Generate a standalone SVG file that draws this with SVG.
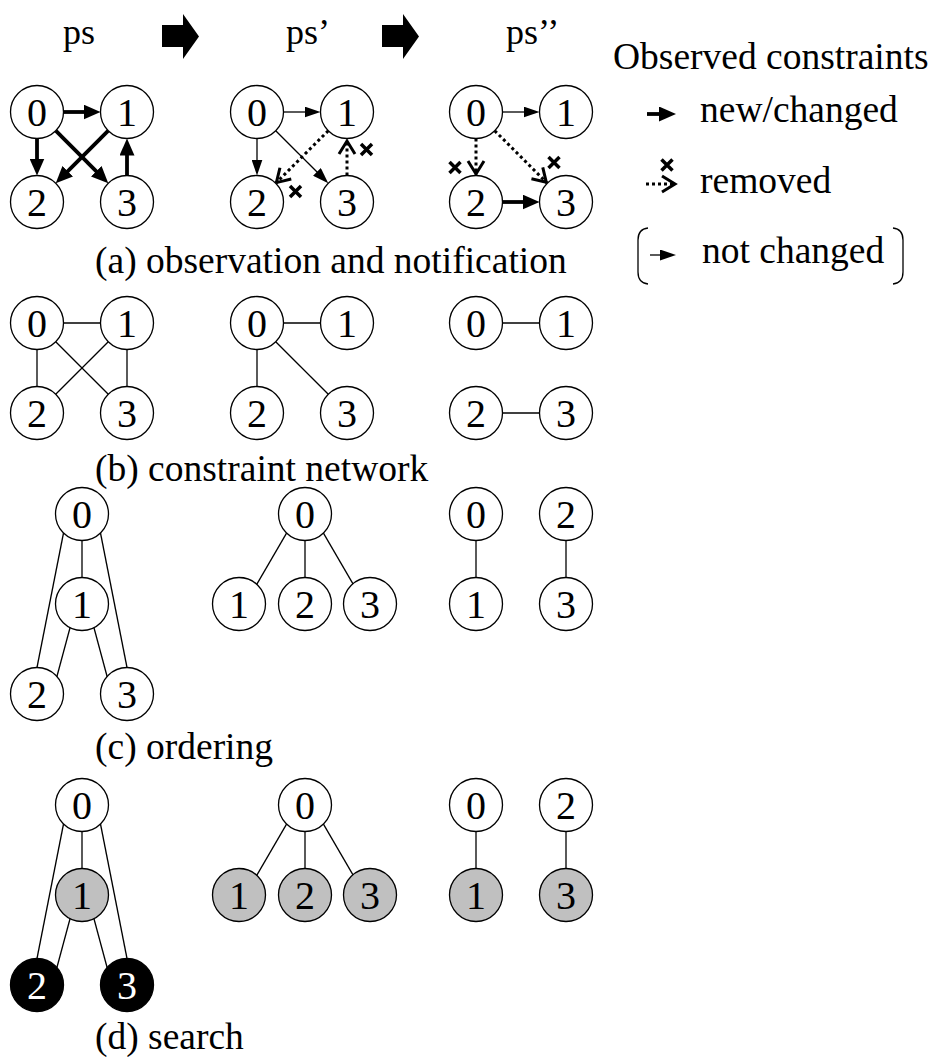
<svg xmlns="http://www.w3.org/2000/svg" width="936" height="1057" viewBox="0 0 936 1057">
<style>
.node circle{fill:#fff;stroke:#000;stroke-width:1.3}
.node text{font-family:"Liberation Serif",serif;font-size:40px;text-anchor:middle;fill:#000}
.gray circle{fill:#c0c0c0}
.black circle{fill:#000}
.black text{fill:#fff}
.thick{stroke:#000;stroke-width:3.8;fill:none;marker-end:url(#ahThick)}
.thin{stroke:#000;stroke-width:1.3;fill:none}
.tarrow{marker-end:url(#ahThin)}
.removed{stroke:#000;stroke-width:3;stroke-dasharray:3 3;fill:none;marker-end:url(#chev)}
.xm{stroke:#000;stroke-width:3.5;fill:none}
.lbl{font-family:"Liberation Serif",serif;font-size:37.5px;fill:#000}
.hdr{font-family:"Liberation Serif",serif;font-size:36px;fill:#000}
.bracket{stroke:#000;stroke-width:1.3;fill:none}
</style>
<defs>
<marker id="ahThick" markerUnits="userSpaceOnUse" viewBox="0 0 17 15" markerWidth="17" markerHeight="15" refX="9" refY="7.5" orient="auto"><path d="M0,0 L17,7.5 L0,15 z" fill="#000"/></marker>
<marker id="ahThin" markerUnits="userSpaceOnUse" viewBox="0 0 16 11" markerWidth="16" markerHeight="11" refX="9" refY="5.5" orient="auto"><path d="M0,0 L16,5.5 L0,11 z" fill="#000"/></marker>
<marker id="chev" markerUnits="userSpaceOnUse" viewBox="-3 -3 22 22" markerWidth="22" markerHeight="22" refX="14" refY="8" orient="auto"><path d="M0,0 L13,8 L0,16" fill="none" stroke="#000" stroke-width="3"/></marker>
<path id="xmark" class="xm" d="M-5.5,-5.5 L5.5,5.5 M-5.5,5.5 L5.5,-5.5"/>
<path id="bigArrow" d="M162,25 H183 V14 L199,36.5 L183,59 V47 H162 Z" fill="#000"/>
</defs>

<g id="header">
<text class="hdr" x="63" y="44">ps</text>
<use href="#bigArrow"/>
<text class="hdr" x="286" y="44">ps’</text>
<use href="#bigArrow" transform="translate(220,0)"/>
<text class="hdr" x="506" y="44">ps’’</text>
</g>

<g id="legend">
<text class="lbl" x="613" y="69">Observed constraints</text>
<line class="thick" x1="647" y1="114" x2="668" y2="114"/>
<text class="lbl" x="700" y="122">new/changed</text>
<use href="#xmark" x="667" y="165"/>
<line class="removed" x1="646" y1="184" x2="676" y2="184"/>
<text class="lbl" x="700" y="193">removed</text>
<path class="bracket" d="M648,228 Q638,229 638,240 V272 Q638,283 648,284"/>
<line class="thin tarrow" x1="650" y1="255" x2="669" y2="255"/>
<text class="lbl" x="702" y="263">not changed</text>
<path class="bracket" d="M893,228 Q903,229 903,240 V272 Q903,283 893,284"/>
</g>

<g id="connectors">
<!-- (a) ps -->
<line class="thick" x1="63.5" y1="112" x2="92.5" y2="112"/>
<line class="thick" x1="37" y1="138.5" x2="37" y2="167.5"/>
<line class="thick" x1="127" y1="175.5" x2="127" y2="146.5"/>
<line class="thick" x1="55.7" y1="130.7" x2="102.6" y2="177.6"/>
<line class="thick" x1="108.3" y1="130.7" x2="61.4" y2="177.6"/>
<!-- (a) ps' -->
<line class="thin tarrow" x1="283.5" y1="112" x2="313.5" y2="112"/>
<line class="thin tarrow" x1="257" y1="138.5" x2="257" y2="168.5"/>
<line class="thin tarrow" x1="275.7" y1="130.7" x2="323.3" y2="178.3"/>
<line class="removed" x1="328.3" y1="130.7" x2="275.7" y2="183.3"/>
<line class="removed" x1="347" y1="175.5" x2="347" y2="140"/>
<use href="#xmark" x="295.5" y="191.5"/>
<use href="#xmark" x="366.5" y="149.5"/>
<!-- (a) ps'' -->
<line class="thin tarrow" x1="502.5" y1="112" x2="532.5" y2="112"/>
<line class="thick" x1="502.5" y1="202" x2="531.5" y2="202"/>
<line class="removed" x1="476" y1="138.5" x2="476" y2="175"/>
<line class="removed" x1="494.7" y1="130.7" x2="547" y2="183"/>
<use href="#xmark" x="455" y="167.5"/>
<use href="#xmark" x="554" y="162.5"/>
<!-- (b) -->
<line class="thin" x1="63.5" y1="323" x2="100.5" y2="323"/>
<line class="thin" x1="37" y1="349.5" x2="37" y2="386.5"/>
<line class="thin" x1="127" y1="349.5" x2="127" y2="386.5"/>
<line class="thin" x1="55.7" y1="341.7" x2="108.3" y2="394.3"/>
<line class="thin" x1="108.3" y1="341.7" x2="55.7" y2="394.3"/>
<line class="thin" x1="283.5" y1="323" x2="320.5" y2="323"/>
<line class="thin" x1="257" y1="349.5" x2="257" y2="386.5"/>
<line class="thin" x1="275.7" y1="341.7" x2="328.3" y2="394.3"/>
<line class="thin" x1="502.5" y1="323" x2="539.5" y2="323"/>
<line class="thin" x1="502.5" y1="413" x2="539.5" y2="413"/>
<!-- (c) -->
<line class="thin" x1="82" y1="540" x2="82" y2="578"/>
<line class="thin" x1="63.8" y1="531.5" x2="36.7" y2="669"/>
<line class="thin" x1="100.2" y1="531.5" x2="127.3" y2="669"/>
<line class="thin" x1="70.5" y1="626" x2="56.5" y2="678"/>
<line class="thin" x1="93.5" y1="626" x2="107.5" y2="678"/>
<line class="thin" x1="287" y1="532.3" x2="256" y2="585.7"/>
<line class="thin" x1="305" y1="540" x2="305" y2="578"/>
<line class="thin" x1="323" y1="532.3" x2="354" y2="585.7"/>
<line class="thin" x1="476" y1="540" x2="476" y2="578"/>
<line class="thin" x1="566" y1="540" x2="566" y2="578"/>
<!-- (d) -->
<line class="thin" x1="82" y1="831" x2="82" y2="869"/>
<line class="thin" x1="63.8" y1="822.5" x2="36.7" y2="960"/>
<line class="thin" x1="100.2" y1="822.5" x2="127.3" y2="960"/>
<line class="thin" x1="70.5" y1="917" x2="56.5" y2="969"/>
<line class="thin" x1="93.5" y1="917" x2="107.5" y2="969"/>
<line class="thin" x1="287" y1="823.3" x2="256" y2="876.7"/>
<line class="thin" x1="305" y1="831" x2="305" y2="869"/>
<line class="thin" x1="323" y1="823.3" x2="354" y2="876.7"/>
<line class="thin" x1="476" y1="831" x2="476" y2="869"/>
<line class="thin" x1="566" y1="831" x2="566" y2="869"/>
</g>

<!-- (a) nodes -->
<g id="a1-n0" class="node"><circle cx="37" cy="112" r="26.5"/><text x="37" y="125.5">0</text></g>
<g id="a1-n1" class="node"><circle cx="127" cy="112" r="26.5"/><text x="127" y="125.5">1</text></g>
<g id="a1-n2" class="node"><circle cx="37" cy="202" r="26.5"/><text x="37" y="215.5">2</text></g>
<g id="a1-n3" class="node"><circle cx="127" cy="202" r="26.5"/><text x="127" y="215.5">3</text></g>
<g id="a2-n0" class="node"><circle cx="257" cy="112" r="26.5"/><text x="257" y="125.5">0</text></g>
<g id="a2-n1" class="node"><circle cx="347" cy="112" r="26.5"/><text x="347" y="125.5">1</text></g>
<g id="a2-n2" class="node"><circle cx="257" cy="202" r="26.5"/><text x="257" y="215.5">2</text></g>
<g id="a2-n3" class="node"><circle cx="347" cy="202" r="26.5"/><text x="347" y="215.5">3</text></g>
<g id="a3-n0" class="node"><circle cx="476" cy="112" r="26.5"/><text x="476" y="125.5">0</text></g>
<g id="a3-n1" class="node"><circle cx="566" cy="112" r="26.5"/><text x="566" y="125.5">1</text></g>
<g id="a3-n2" class="node"><circle cx="476" cy="202" r="26.5"/><text x="476" y="215.5">2</text></g>
<g id="a3-n3" class="node"><circle cx="566" cy="202" r="26.5"/><text x="566" y="215.5">3</text></g>
<text class="lbl" x="95" y="273">(a) observation and notification</text>

<!-- (b) nodes -->
<g id="b1-n0" class="node"><circle cx="37" cy="323" r="26.5"/><text x="37" y="336.5">0</text></g>
<g id="b1-n1" class="node"><circle cx="127" cy="323" r="26.5"/><text x="127" y="336.5">1</text></g>
<g id="b1-n2" class="node"><circle cx="37" cy="413" r="26.5"/><text x="37" y="426.5">2</text></g>
<g id="b1-n3" class="node"><circle cx="127" cy="413" r="26.5"/><text x="127" y="426.5">3</text></g>
<g id="b2-n0" class="node"><circle cx="257" cy="323" r="26.5"/><text x="257" y="336.5">0</text></g>
<g id="b2-n1" class="node"><circle cx="347" cy="323" r="26.5"/><text x="347" y="336.5">1</text></g>
<g id="b2-n2" class="node"><circle cx="257" cy="413" r="26.5"/><text x="257" y="426.5">2</text></g>
<g id="b2-n3" class="node"><circle cx="347" cy="413" r="26.5"/><text x="347" y="426.5">3</text></g>
<g id="b3-n0" class="node"><circle cx="476" cy="323" r="26.5"/><text x="476" y="336.5">0</text></g>
<g id="b3-n1" class="node"><circle cx="566" cy="323" r="26.5"/><text x="566" y="336.5">1</text></g>
<g id="b3-n2" class="node"><circle cx="476" cy="413" r="26.5"/><text x="476" y="426.5">2</text></g>
<g id="b3-n3" class="node"><circle cx="566" cy="413" r="26.5"/><text x="566" y="426.5">3</text></g>
<text class="lbl" x="95" y="481">(b) constraint network</text>

<!-- (c) nodes -->
<g id="c1-n0" class="node"><circle cx="82" cy="514" r="26.5"/><text x="82" y="527.5">0</text></g>
<g id="c1-n1" class="node"><circle cx="82" cy="604" r="26.5"/><text x="82" y="617.5">1</text></g>
<g id="c1-n2" class="node"><circle cx="37" cy="694" r="26.5"/><text x="37" y="707.5">2</text></g>
<g id="c1-n3" class="node"><circle cx="127" cy="694" r="26.5"/><text x="127" y="707.5">3</text></g>
<g id="c2-n0" class="node"><circle cx="305" cy="514" r="26.5"/><text x="305" y="527.5">0</text></g>
<g id="c2-n1" class="node"><circle cx="239" cy="604" r="26.5"/><text x="239" y="617.5">1</text></g>
<g id="c2-n2" class="node"><circle cx="305" cy="604" r="26.5"/><text x="305" y="617.5">2</text></g>
<g id="c2-n3" class="node"><circle cx="370" cy="604" r="26.5"/><text x="370" y="617.5">3</text></g>
<g id="c3-n0" class="node"><circle cx="476" cy="514" r="26.5"/><text x="476" y="527.5">0</text></g>
<g id="c3-n1" class="node"><circle cx="476" cy="604" r="26.5"/><text x="476" y="617.5">1</text></g>
<g id="c3-n2" class="node"><circle cx="566" cy="514" r="26.5"/><text x="566" y="527.5">2</text></g>
<g id="c3-n3" class="node"><circle cx="566" cy="604" r="26.5"/><text x="566" y="617.5">3</text></g>
<text class="lbl" x="95" y="759">(c) ordering</text>

<!-- (d) nodes -->
<g id="d1-n0" class="node"><circle cx="82" cy="805" r="26.5"/><text x="82" y="818.5">0</text></g>
<g id="d1-n1" class="node gray"><circle cx="82" cy="895" r="26.5"/><text x="82" y="908.5">1</text></g>
<g id="d1-n2" class="node black"><circle cx="37" cy="985" r="26.5"/><text x="37" y="998.5">2</text></g>
<g id="d1-n3" class="node black"><circle cx="127" cy="985" r="26.5"/><text x="127" y="998.5">3</text></g>
<g id="d2-n0" class="node"><circle cx="305" cy="805" r="26.5"/><text x="305" y="818.5">0</text></g>
<g id="d2-n1" class="node gray"><circle cx="239" cy="895" r="26.5"/><text x="239" y="908.5">1</text></g>
<g id="d2-n2" class="node gray"><circle cx="305" cy="895" r="26.5"/><text x="305" y="908.5">2</text></g>
<g id="d2-n3" class="node gray"><circle cx="370" cy="895" r="26.5"/><text x="370" y="908.5">3</text></g>
<g id="d3-n0" class="node"><circle cx="476" cy="805" r="26.5"/><text x="476" y="818.5">0</text></g>
<g id="d3-n1" class="node gray"><circle cx="476" cy="895" r="26.5"/><text x="476" y="908.5">1</text></g>
<g id="d3-n2" class="node"><circle cx="566" cy="805" r="26.5"/><text x="566" y="818.5">2</text></g>
<g id="d3-n3" class="node gray"><circle cx="566" cy="895" r="26.5"/><text x="566" y="908.5">3</text></g>
<text class="lbl" x="95" y="1049">(d) search</text>
</svg>
